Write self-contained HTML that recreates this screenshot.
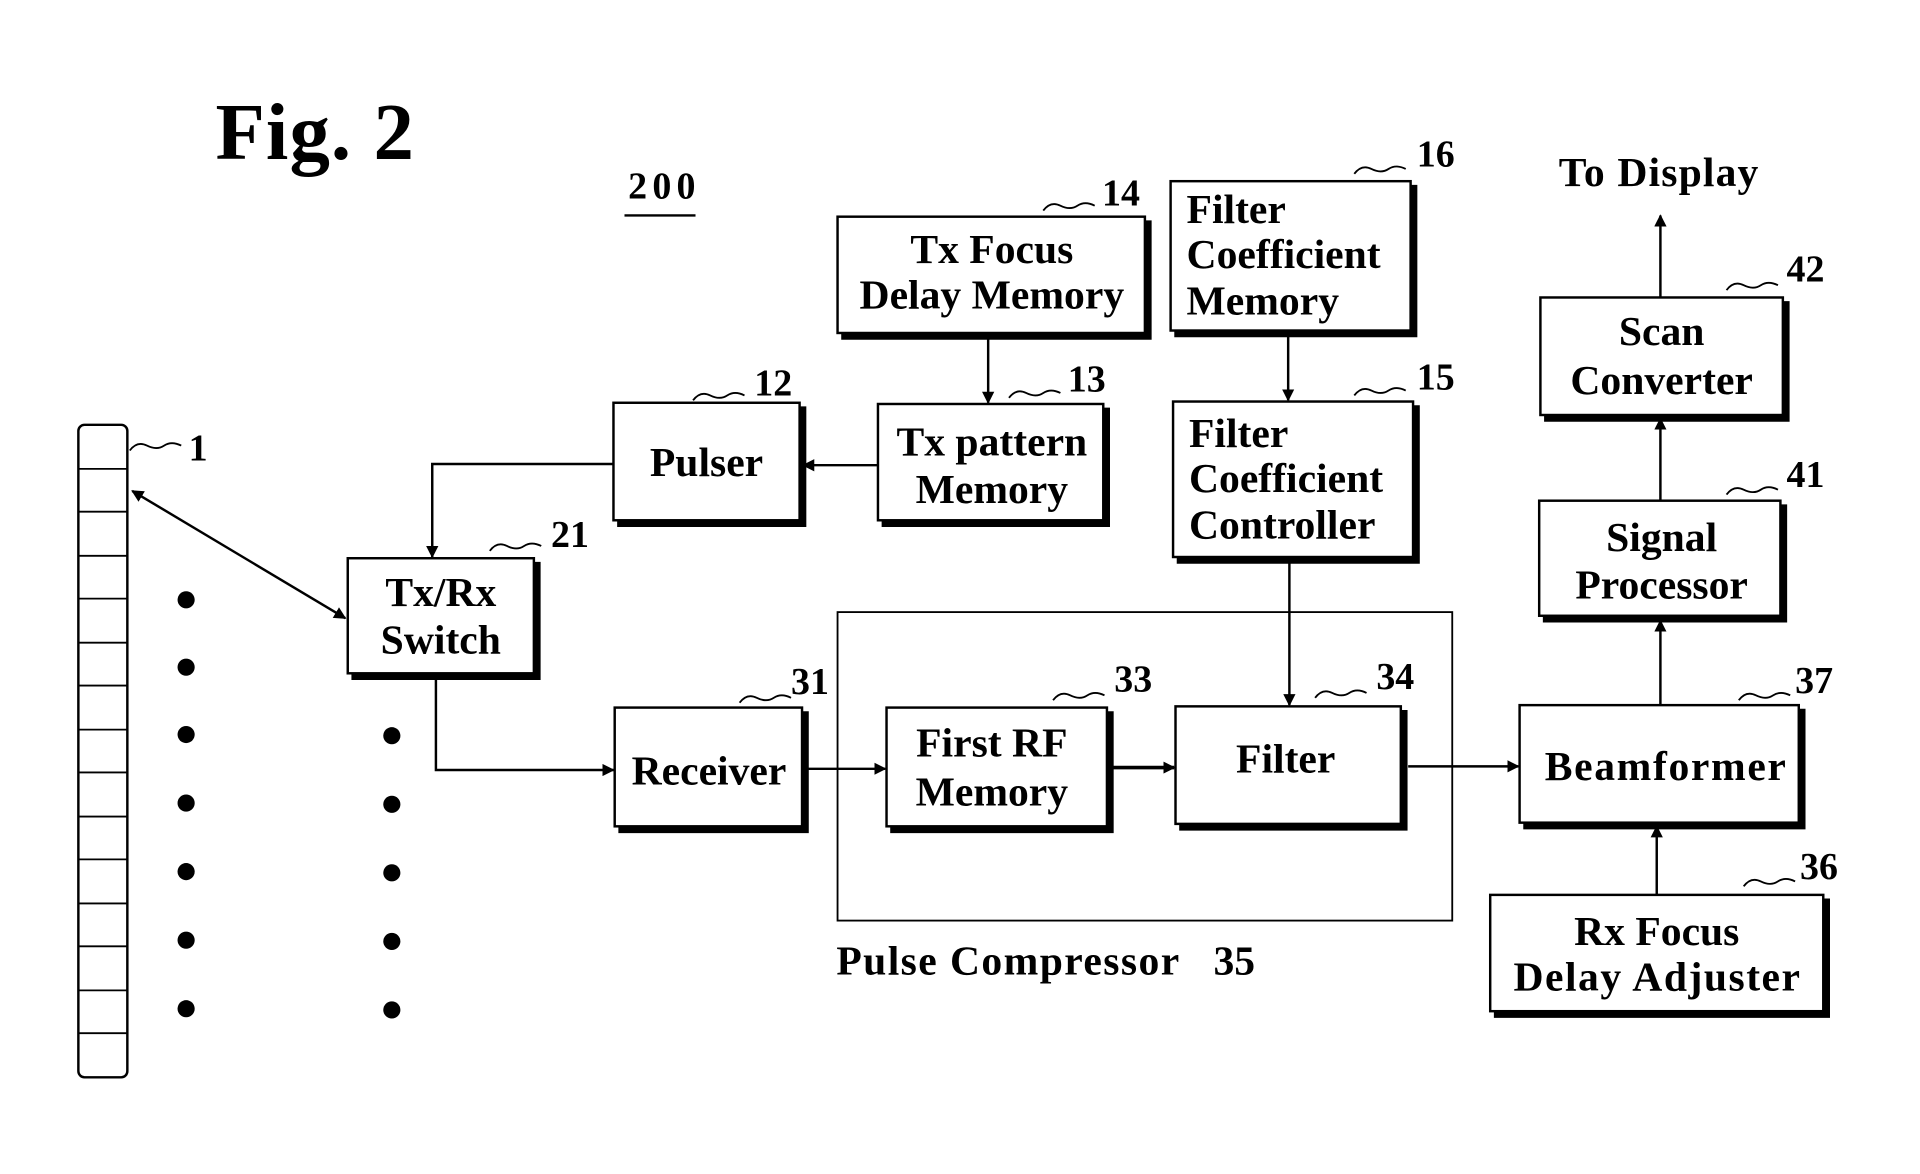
<!DOCTYPE html>
<html><head><meta charset="utf-8"><style>
html,body{margin:0;padding:0;background:#fff;width:1920px;height:1174px;overflow:hidden}
svg{display:block}
text{font-family:"Liberation Serif",serif;font-weight:bold;fill:#000}
</style></head><body>
<svg width="1920" height="1174" viewBox="0 0 1568 959" preserveAspectRatio="none" xmlns="http://www.w3.org/2000/svg">
<defs>
<marker id="a" markerWidth="10" markerHeight="10" refX="9" refY="5" orient="auto" markerUnits="userSpaceOnUse"><path d="M0,0 L10,5 L0,10 z" fill="#000"/></marker>
<marker id="s" markerWidth="10" markerHeight="10" refX="1" refY="5" orient="auto" markerUnits="userSpaceOnUse"><path d="M10,0 L0,5 L10,10 z" fill="#000"/></marker>
</defs>
<text x="176" y="130" font-size="66" textLength="162">Fig. 2</text>
<text x="513" y="162" font-size="31" textLength="55">200</text>
<line x1="510" y1="176" x2="568" y2="176" stroke="#000" stroke-width="2"/>
<rect x="64" y="347" width="40" height="533" rx="5" fill="none" stroke="#000" stroke-width="2"/>
<g stroke="#000" stroke-width="1.5">
<line x1="64" y1="383" x2="104" y2="383"/><line x1="64" y1="418" x2="104" y2="418"/><line x1="64" y1="454" x2="104" y2="454"/><line x1="64" y1="489" x2="104" y2="489"/><line x1="64" y1="525" x2="104" y2="525"/><line x1="64" y1="560" x2="104" y2="560"/><line x1="64" y1="596" x2="104" y2="596"/><line x1="64" y1="631" x2="104" y2="631"/><line x1="64" y1="667" x2="104" y2="667"/><line x1="64" y1="702" x2="104" y2="702"/><line x1="64" y1="738" x2="104" y2="738"/><line x1="64" y1="773" x2="104" y2="773"/><line x1="64" y1="809" x2="104" y2="809"/><line x1="64" y1="844" x2="104" y2="844"/>
</g>
<g fill="#000">
<circle cx="152" cy="490" r="7"/><circle cx="152" cy="545" r="7"/><circle cx="152" cy="600" r="7"/><circle cx="152" cy="656" r="7"/><circle cx="152" cy="712" r="7"/><circle cx="152" cy="768" r="7"/><circle cx="152" cy="824" r="7"/>
<circle cx="320" cy="601" r="7"/><circle cx="320" cy="657" r="7"/><circle cx="320" cy="713" r="7"/><circle cx="320" cy="769" r="7"/><circle cx="320" cy="825" r="7"/>
</g>
<g fill="none" stroke="#000">
<g stroke-width="5">
<path d="M439,459 V553 H287"/><path d="M656,332 V428 H504"/><path d="M904,333 V428 H720"/><path d="M938,180 V275 H687"/><path d="M1155,151 V273 H959"/><path d="M1157,331 V458 H961"/><path d="M658,581 V678 H505"/><path d="M907,581 V678 H727"/><path d="M1147,580 V676 H963"/><path d="M1472,579 V675 H1244"/><path d="M1492,734 V829 H1220"/><path d="M1457,412 V506 H1260"/><path d="M1459,246 V342 H1261"/>
</g>
<g stroke-width="2">
<rect x="284" y="456" width="152" height="94"/><rect x="501" y="329" width="152" height="96"/><rect x="717" y="330" width="184" height="95"/><rect x="684" y="177" width="251" height="95"/><rect x="956" y="148" width="196" height="122"/><rect x="958" y="328" width="196" height="127"/><rect x="502" y="578" width="153" height="97"/><rect x="724" y="578" width="180" height="97"/><rect x="960" y="577" width="184" height="96"/><rect x="1241" y="576" width="228" height="96"/><rect x="1217" y="731" width="272" height="95"/><rect x="1257" y="409" width="197" height="94"/><rect x="1258" y="243" width="198" height="96"/>
<rect x="684" y="500" width="502" height="252" stroke-width="1.5"/>
</g>
</g>
<g font-size="34" text-anchor="middle">
<text x="360" y="495">Tx/Rx</text><text x="360" y="534">Switch</text>
<text x="577" y="389">Pulser</text>
<text x="810" y="372">Tx pattern</text><text x="810" y="411">Memory</text>
<text x="810" y="215">Tx Focus</text><text x="810" y="252">Delay Memory</text>
<text x="579" y="641">Receiver</text>
<text x="810" y="618">First RF</text><text x="810" y="658">Memory</text>
<text x="1050" y="631">Filter</text>
<text x="1360" y="637" textLength="197">Beamformer</text>
<text x="1353" y="772">Rx Focus</text><text x="1353" y="809" textLength="234">Delay Adjuster</text>
<text x="1357" y="450">Signal</text><text x="1357" y="489">Processor</text>
<text x="1357" y="282">Scan</text><text x="1357" y="322">Converter</text>
</g>
<g font-size="34">
<text x="969" y="182">Filter</text><text x="969" y="219">Coefficient</text><text x="969" y="257">Memory</text>
<text x="971" y="365">Filter</text><text x="971" y="402">Coefficient</text><text x="971" y="440">Controller</text>
<text x="683" y="796" textLength="280">Pulse Compressor</text><text x="991" y="796">35</text>
<text x="1273" y="152" textLength="163">To Display</text>
</g>
<g font-size="31">
<text x="154" y="376">1</text><text x="450" y="447">21</text><text x="616" y="323">12</text><text x="872" y="320">13</text><text x="900" y="168">14</text><text x="1157" y="136">16</text><text x="1157" y="318">15</text><text x="646" y="567">31</text><text x="910" y="565">33</text><text x="1124" y="563">34</text><text x="1466" y="566">37</text><text x="1470" y="718">36</text><text x="1459" y="398">41</text><text x="1459" y="230">42</text>
</g>
<g fill="none" stroke="#000" stroke-width="1.5">
<path d="M106,368 q6,-8 14,-4 t14,0 t14,0"/>
<path d="M400,450 q6,-8 14,-4 t14,0 t14,0"/>
<path d="M566,327 q6,-8 14,-4 t14,0 t14,0"/>
<path d="M824,325 q6,-8 14,-4 t14,0 t14,0"/>
<path d="M852,172 q6,-8 14,-4 t14,0 t14,0"/>
<path d="M1106,142 q6,-8 14,-4 t14,0 t14,0"/>
<path d="M1106,323 q6,-8 14,-4 t14,0 t14,0"/>
<path d="M604,574 q6,-8 14,-4 t14,0 t14,0"/>
<path d="M860,572 q6,-8 14,-4 t14,0 t14,0"/>
<path d="M1074,570 q6,-8 14,-4 t14,0 t14,0"/>
<path d="M1420,572 q6,-8 14,-4 t14,0 t14,0"/>
<path d="M1424,724 q6,-8 14,-4 t14,0 t14,0"/>
<path d="M1410,404 q6,-8 14,-4 t14,0 t14,0"/>
<path d="M1410,237 q6,-8 14,-4 t14,0 t14,0"/>
</g>
<g fill="none" stroke="#000" stroke-width="2">
<line x1="108" y1="401" x2="282" y2="505" marker-start="url(#s)" marker-end="url(#a)"/>
<path d="M501,379 H353 V455" marker-end="url(#a)"/>
<line x1="717" y1="380" x2="656" y2="380" marker-end="url(#a)"/>
<line x1="807" y1="275" x2="807" y2="329" marker-end="url(#a)"/>
<line x1="1052" y1="273" x2="1052" y2="327" marker-end="url(#a)"/>
<line x1="1053" y1="458" x2="1053" y2="576" marker-end="url(#a)"/>
<path d="M356,553 V629 H501" marker-end="url(#a)"/>
<line x1="658" y1="628" x2="723" y2="628" marker-end="url(#a)"/>
<line x1="907" y1="627" x2="959" y2="627" stroke-width="3" marker-end="url(#a)"/>
<line x1="1150" y1="626" x2="1240" y2="626" marker-end="url(#a)"/>
<line x1="1353" y1="731" x2="1353" y2="675" marker-end="url(#a)"/>
<line x1="1356" y1="576" x2="1356" y2="507" marker-end="url(#a)"/>
<line x1="1356" y1="409" x2="1356" y2="342" marker-end="url(#a)"/>
<line x1="1356" y1="243" x2="1356" y2="176" marker-end="url(#a)"/>
</g>
</svg>
</body></html>
